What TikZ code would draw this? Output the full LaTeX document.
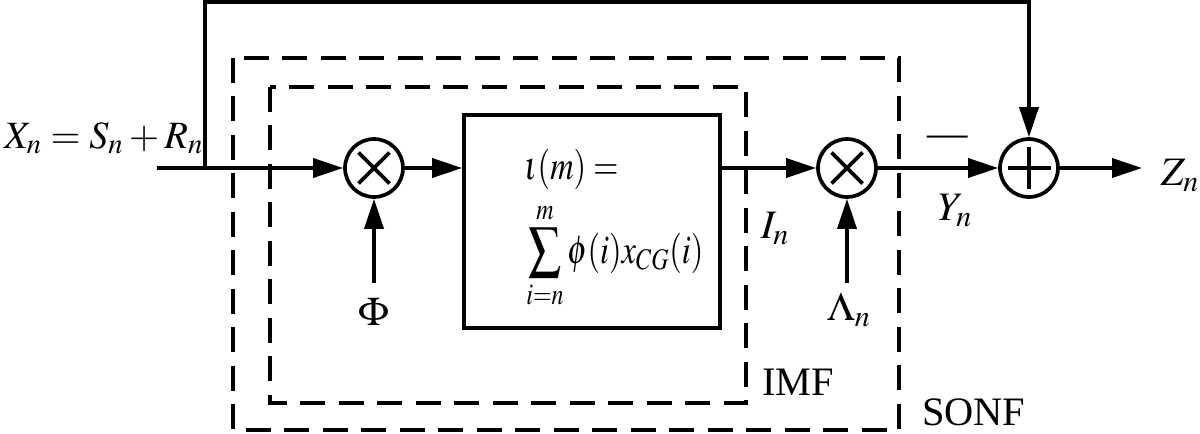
\documentclass[tikz,border=0pt]{standalone}
\usepackage{amsmath}
\usepackage{mathptmx}
\usepackage{fontspec}
\setmainfont{Liberation Serif}
\usepackage{tikz}
\usetikzlibrary{calc,positioning,arrows.meta}

\tikzset{
	wire/.style={line width=2.1pt},
	sig/.style={wire,-{Triangle[length=6mm,width=3.8mm]}},
	dashbox/.style={line width=2.1pt,dash pattern=on 0.5cm off 0.27cm},
	lab/.style={inner sep=1pt},
	mixer/.style={circle,draw,wire,minimum size=1.16cm,inner sep=0pt,
		path picture={
			\draw[wire] ($(path picture bounding box.center)+(-0.31cm,-0.31cm)$) -- ($(path picture bounding box.center)+(0.31cm,0.31cm)$)
				($(path picture bounding box.center)+(-0.31cm,0.31cm)$) -- ($(path picture bounding box.center)+(0.31cm,-0.31cm)$);}},
	adder/.style={circle,draw,wire,minimum size=1.16cm,inner sep=0pt,
		path picture={
			\draw[wire] ($(path picture bounding box.center)+(-0.43cm,0)$) -- ($(path picture bounding box.center)+(0.43cm,0)$)
				($(path picture bounding box.center)+(0,-0.43cm)$) -- ($(path picture bounding box.center)+(0,0.43cm)$);}},
}

\begin{document}
\begin{tikzpicture}[x=0.02cm,y=-0.02cm,font=\fontsize{23}{27}\selectfont]
		\useasboundingbox (0,0) rectangle (1200,433);
		% dashed filter frames
		\draw[dashbox] (233,58) rectangle (899,430);
		\draw[dashbox] (270,87) rectangle (746,403);
		% blocks
		\node(mul1) [mixer] at (374,168) {};
		\node(mul2) [mixer] at (847,168) {};
		\node(add)  [adder] at (1029,168) {};
		\node(core) [draw,wire,minimum width=5.12cm,minimum height=4.26cm] at (592,221.5) {};
		\node(eqa)  [inner sep=0pt,anchor=base west] at (524,179)
			{\scalebox{0.8}[1]{$\iota(m) =$}};
		\node(eqb)  [inner sep=0pt,anchor=base west] at (526,263)
			{\scalebox{0.8}[1]{$\displaystyle\sum_{i=n}^{m}\phi(i)x_{CG}(i)$}};
		% free ends
		\coordinate (in)  at (157,168);
		\coordinate (tap) at (205,168);
		\coordinate (top) at (205,2);
		\coordinate (phi) at (374,283);
		\coordinate (lam) at (847,283);
		\coordinate (out) at (1142,168);
		% signal path
		\draw[wire] (in) -- (tap);
		\draw[sig] (tap) -- (mul1);
		\draw[sig] (mul1) -- (mul1 -| core.west);
		\draw[sig] (core.east |- mul2) -- (mul2);
		\draw[sig] (mul2) -- (add);
		\draw[sig] (add) -- (out);
		\draw[sig] (phi) -- (mul1);
		\draw[sig] (lam) -- (mul2);
		\draw[sig] (tap) -- (top) -| (add.north);
		% labels
		\node(xlab) [lab,anchor=base west,font=\fontsize{22}{26}\selectfont] at (2,148) {$X_n = S_n + R_n$};
		\node(ilab) [lab,anchor=base] at (775,238) {$I_n$};
		\node(ylab) [lab,anchor=base] at (955,220) {$Y_n$};
		\node(zlab) [lab,anchor=base] at (1180,185) {$Z_n$};
		\node(flab) [lab,anchor=base] at (374,325) {$\Phi$};
		\node(llab) [lab,anchor=base] at (849,320) {$\Lambda_n$};
		\node(sign) [lab,anchor=base] at (948,146) {---};
		\node(imf)  [lab,anchor=base west] at (760,395) {IMF};
		\node(sonf) [lab,anchor=base west] at (920,425) {SONF};
\end{tikzpicture}
\end{document}
